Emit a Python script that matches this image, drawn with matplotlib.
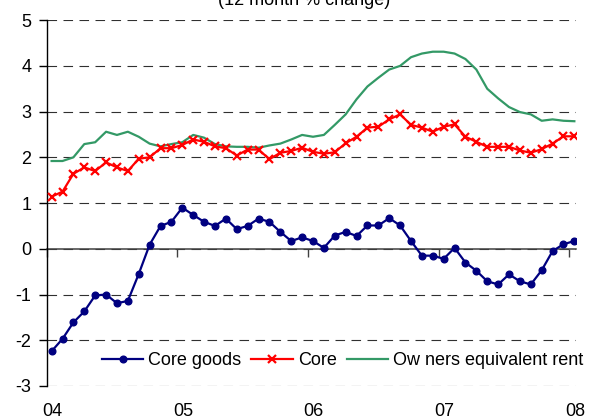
import numpy as np
import matplotlib
matplotlib.use("Agg")
import matplotlib.pyplot as plt

plt.rcParams['font.family'] = ['Liberation Sans', 'DejaVu Sans']
plt.rcParams['axes.unicode_minus'] = False

# monthly data, Jan 2004 - Jan 2008 (12 month % change)
core_goods = [-2.24, -1.97, -1.61, -1.37, -1.02, -1.00, -1.19, -1.14,
              -0.55, 0.09, 0.50, 0.59, 0.90, 0.74, 0.59, 0.50,
              0.66, 0.43, 0.50, 0.66, 0.59, 0.37, 0.17, 0.25,
              0.17, 0.02, 0.29, 0.37, 0.28, 0.51, 0.51, 0.67,
              0.51, 0.17, -0.15, -0.15, -0.22, 0.02, -0.30, -0.48,
              -0.71, -0.78, -0.56, -0.71, -0.78, -0.47, -0.05, 0.10, 0.17]
core = [1.14, 1.25, 1.64, 1.78, 1.70, 1.89, 1.78, 1.70,
        1.97, 2.00, 2.20, 2.20, 2.27, 2.39, 2.34, 2.24,
        2.20, 2.04, 2.17, 2.17, 1.96, 2.10, 2.14, 2.21,
        2.12, 2.08, 2.11, 2.31, 2.45, 2.65, 2.67, 2.83,
        2.94, 2.71, 2.65, 2.56, 2.67, 2.72, 2.45, 2.34,
        2.23, 2.23, 2.23, 2.15, 2.10, 2.18, 2.30, 2.46, 2.46]
oer = [1.92, 1.92, 2.00, 2.29, 2.33, 2.56, 2.49, 2.56,
       2.45, 2.30, 2.24, 2.29, 2.33, 2.49, 2.43, 2.29,
       2.24, 2.23, 2.23, 2.21, 2.26, 2.30, 2.39, 2.49,
       2.45, 2.49, 2.71, 2.94, 3.27, 3.55, 3.74, 3.92,
       4.00, 4.19, 4.27, 4.31, 4.31, 4.27, 4.15, 3.92,
       3.50, 3.29, 3.10, 2.99, 2.94, 2.80, 2.83, 2.80, 2.79]

years = [2004, 2005, 2006, 2007, 2008]
year_labels = ['04', '05', '06', '07', '08']

# month positions (points sit a bit into each month)
x = 2004 + (np.arange(len(core)) + 0.45) / 12

fig = plt.figure(figsize=(6.02, 4.20), dpi=100)
ax = fig.add_axes([0.0776, 0.081, 0.8792, 0.871])

ax.plot(x, oer, color='#339966', lw=1.6, label='Ow ners equivalent rent', zorder=3)
ax.plot(x, core, color='#ff0000', lw=1.6, marker='x', ms=6, mew=1.6, label='Core', zorder=4)
ax.plot(x, core_goods, color='#000080', lw=1.6, marker='o', ms=4.8, label='Core goods', zorder=5)

ax.set_xlim(2004, 2008.05)
ax.set_ylim(-3, 5)
ax.set_yticks(range(-3, 6))

ax.yaxis.grid(True, color='#303030', lw=0.8, linestyle=(0, (8.6, 5.8)), zorder=1)
ax.set_axisbelow(True)

for s in ['top', 'right']:
    ax.spines[s].set_visible(False)
ax.spines['left'].set_linewidth(1)
ax.spines['bottom'].set_position(('data', 0))
ax.spines['bottom'].set_color('#404040')
ax.spines['bottom'].set_linewidth(1.1)
ax.spines['bottom'].set_zorder(2)

ax.set_xticks(years)
ax.tick_params(axis='x', direction='out', length=6, width=1, color='#404040', labelbottom=False)
ax.tick_params(axis='y', direction='out', length=6, width=1, labelsize=13, pad=5)

# year labels sit at the bottom of the chart
trans = ax.get_xaxis_transform()
for yr, lab in zip(years, year_labels):
    ax.text(yr + 0.043, -0.081, lab, transform=trans, ha='center', va='baseline', fontsize=13)

fig.text(0.5055, 0.987, '(12 month % change)', ha='center', va='baseline', fontsize=13)

h, l = ax.get_legend_handles_labels()
order = [2, 1, 0]
fig.legend([h[i] for i in order], [l[i] for i in order], loc='center left',
           bbox_to_anchor=(0.169, 0.1405), ncol=3, frameon=False, fontsize=13,
           handlelength=2.3, handletextpad=0.28, columnspacing=0.55,
           borderpad=0, borderaxespad=0)

fig.savefig('out.png', dpi=100)
